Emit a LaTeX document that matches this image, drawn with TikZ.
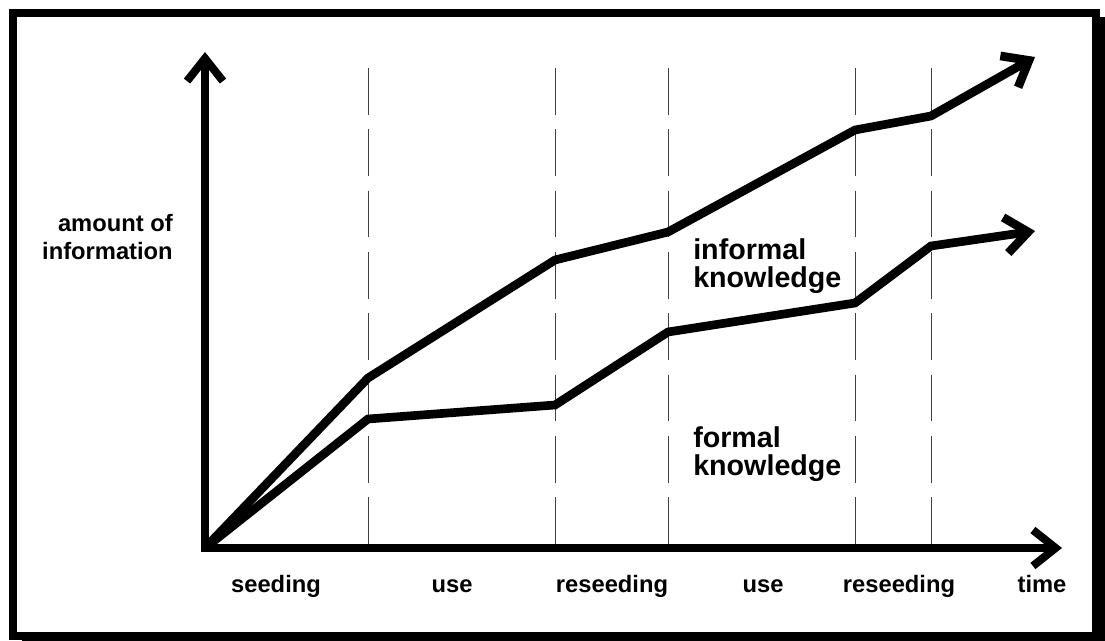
\documentclass[tikz,border=0pt]{standalone}
\usepackage{fontspec}
\setmainfont{Liberation Sans}
\usetikzlibrary{arrows.meta}

\tikzset{
  barb/.style={-{Straight Barb[length=17pt,width=27pt]}},
  thick line/.style={line width=6pt},
  curve line/.style={line width=6.5pt},
  phase line/.style={black!75, line width=0.75pt, dash pattern=on 35pt off 11pt},
  lbl/.style={font=\fontsize{17.8}{21}\selectfont\bfseries, inner sep=0pt},
  big lbl/.style={font=\fontsize{21.5}{21}\selectfont\bfseries, inner sep=0pt},
}

\begin{document}
\begin{tikzpicture}[x=0.75pt,y=-0.75pt]
  \useasboundingbox (0,0) rectangle (1105,641);
  % frame with shadow
  \fill (22,17) rectangle (1105,650);
  \draw[thick line, fill=white] (13,13) rectangle (1096,636);

  \coordinate (O) at (205,548);
  \coordinate (ytop) at (205,52);
  \coordinate (xend) at (1062,548);

  % phase boundaries
  \foreach \x in {368,555,668,855,931}
    \draw[phase line] (\x,68) -- (\x,548);

  % axes
  \draw[thick line, {Straight Barb[length=17pt,width=27pt]}-{Straight Barb[length=17pt,width=27pt]}]
     (ytop) -- (O) -- (xend);

  % informal knowledge
  \draw[curve line, barb] (O) -- (368,378) -- (555,260) -- (668,232)
     -- (855,130) -- (931,116) -- (1035,57);
  % formal knowledge
  \draw[curve line, barb] (O) -- (368,419) -- (555,405) -- (668,332)
     -- (855,303) -- (931,246) -- (1035,231);

  % base anchor sits on the last line
  \node[lbl, anchor=base east, align=right] (amount) at (173,260) {amount of\\information};
  \node[big lbl, anchor=base west, align=left] (informal) at (693,288) {informal\\knowledge};
  \node[big lbl, anchor=base west, align=left] (formal) at (693,475) {formal\\knowledge};

  \foreach \x/\t/\n in {276/seeding/seed, 452/use/useA, 612/reseeding/reseedA,
      763/use/useB, 899/reseeding/reseedB, 1042/time/time}
    \node[lbl, anchor=base] (\n) at (\x,592) {\t};
\end{tikzpicture}
\end{document}
